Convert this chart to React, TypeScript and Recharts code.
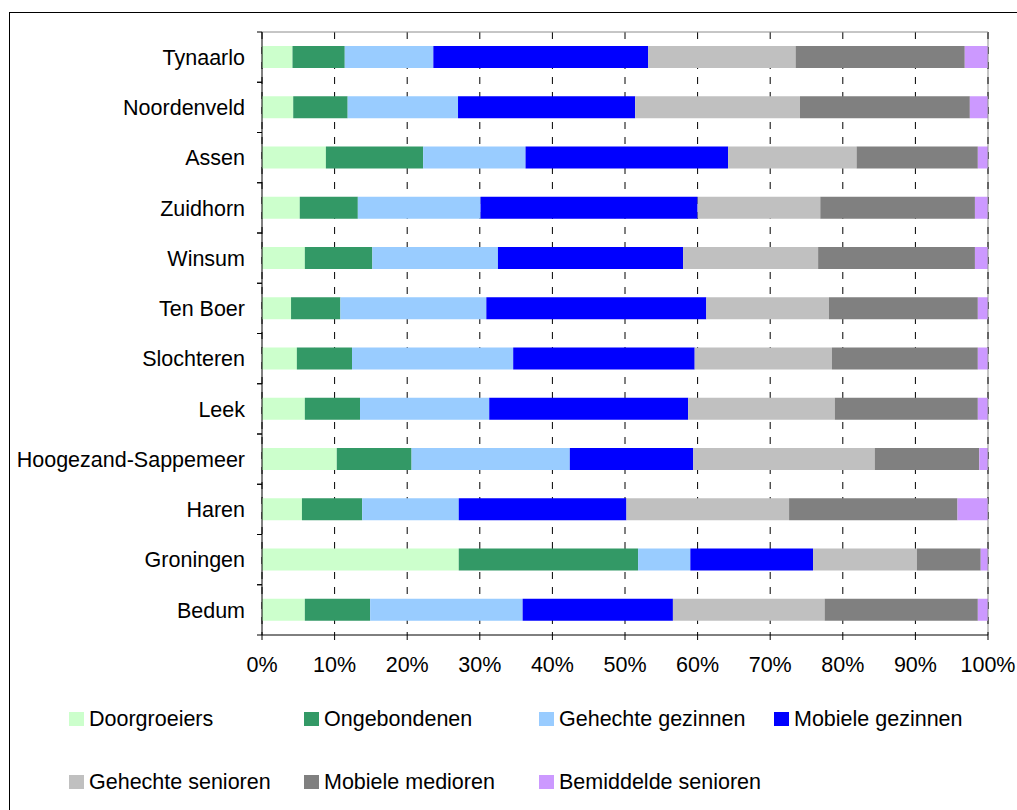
import React from 'react';
import { BarChart, Bar, XAxis, YAxis, CartesianGrid, ReferenceLine, Legend } from 'recharts';

// Gemeenten, van onder naar boven
const categories = [
  'Bedum', 'Groningen', 'Haren', 'Hoogezand-Sappemeer', 'Leek', 'Slochteren',
  'Ten Boer', 'Winsum', 'Zuidhorn', 'Assen', 'Noordenveld', 'Tynaarlo',
];

// Aandeel per leefstijlgroep (%), zelfde volgorde als categories
const doorgroeiers = [5.9, 27.1, 5.5, 10.3, 5.9, 4.8, 4.0, 5.9, 5.2, 8.8, 4.3, 4.2];
const ongebondenen = [9.0, 24.7, 8.3, 10.3, 7.6, 7.6, 6.8, 9.3, 8.0, 13.4, 7.5, 7.2];
const gehechteGezinnen = [21.0, 7.2, 13.3, 21.8, 17.8, 22.2, 20.1, 17.3, 16.9, 14.1, 15.2, 12.2];
const mobieleGezinnen = [20.7, 16.9, 23.1, 17.0, 27.4, 25.0, 30.3, 25.5, 29.9, 27.9, 24.4, 29.6];
const gehechteSenioren = [20.9, 14.3, 22.4, 25.0, 20.2, 18.9, 16.9, 18.6, 16.9, 17.7, 22.7, 20.3];
const mobieleMedioren = [21.1, 8.8, 23.2, 14.4, 19.7, 20.1, 20.5, 21.6, 21.3, 16.7, 23.4, 23.3];
const bemiddeldeSenioren = [1.4, 1.0, 4.2, 1.2, 1.4, 1.4, 1.4, 1.8, 1.8, 1.4, 2.5, 3.2];

const xTicks = [0, 10, 20, 30, 40, 50, 60, 70, 80, 90, 100];

const seriesDefs = [
  { key: 'Doorgroeiers', values: doorgroeiers, color: '#CCFFCC' },
  { key: 'Ongebondenen', values: ongebondenen, color: '#339966' },
  { key: 'Gehechte gezinnen', values: gehechteGezinnen, color: '#99CCFF' },
  { key: 'Mobiele gezinnen', values: mobieleGezinnen, color: '#0000FF' },
  { key: 'Gehechte senioren', values: gehechteSenioren, color: '#C0C0C0' },
  { key: 'Mobiele medioren', values: mobieleMedioren, color: '#808080' },
  { key: 'Bemiddelde senioren', values: bemiddeldeSenioren, color: '#CC99FF' },
];

const data = categories.map((name, i) => {
  const row: Record<string, string | number> = { name };
  seriesDefs.forEach((s) => {
    row[s.key] = s.values[i];
  });
  return row;
});

const FONT = '"Liberation Sans", Arial, Helvetica, sans-serif';
const FONT_SIZE = 21.5;
const TICK_SIZE = 5;
const TICK_MARGIN = 12;

// Category label plus tick marks on the band boundaries
function CategoryTick(props: any) {
  const { x, y, payload } = props;
  const half = payload && typeof payload.offset === 'number' ? payload.offset : 25.125;
  const lx1 = x + TICK_MARGIN;
  const lx2 = lx1 + TICK_SIZE;
  return (
    <g>
      <line x1={lx1} x2={lx2} y1={y - half} y2={y - half} stroke="#000" strokeWidth={1} />
      <line x1={lx1} x2={lx2} y1={y + half} y2={y + half} stroke="#000" strokeWidth={1} />
      <text x={x} y={y} dy="0.355em" textAnchor="end" fontSize={FONT_SIZE} fontFamily={FONT} fill="#000">
        {payload.value}
      </text>
    </g>
  );
}

function LegendBlock() {
  return (
    <div style={{ position: 'relative', width: 1017, height: 110, fontFamily: FONT }}>
      {seriesDefs.map((s, i) => {
        const row = i < 4 ? 0 : 1;
        const col = i < 4 ? i : i - 4;
        return (
          <div
            key={s.key}
            style={{
              position: 'absolute',
              left: 69 + col * 235,
              top: row * 63,
              height: 38,
              display: 'flex',
              alignItems: 'center',
              whiteSpace: 'nowrap',
            }}
          >
            <span style={{ display: 'inline-block', width: 15, height: 14, background: s.color }} />
            <span style={{ marginLeft: 5, fontSize: FONT_SIZE, color: '#000' }}>{s.key}</span>
          </div>
        );
      })}
    </div>
  );
}

export default function App() {
  return (
    <div
      style={{
        position: 'fixed',
        left: 0,
        top: 0,
        width: 1017,
        height: 810,
        overflow: 'hidden',
        background: '#fff',
        fontFamily: FONT,
      }}
    >
      <div
        style={{
          position: 'absolute',
          left: 9,
          top: 12,
          width: 1100,
          height: 900,
          border: '1px solid #000',
        }}
      />
      <div style={{ position: 'absolute', left: 0, top: 0 }}>
        <BarChart
          width={1017}
          height={810}
          data={data}
          layout="vertical"
          margin={{ top: 31, right: 29, bottom: 145, left: 0 }}
        >
          <CartesianGrid
            horizontal={false}
            vertical
            stroke="#000"
            strokeDasharray="7 8"
          />
          <XAxis
            xAxisId="top"
            orientation="top"
            type="number"
            domain={[0, 100]}
            ticks={xTicks}
            height={1}
            tick={false}
            tickLine={false}
            axisLine={{ stroke: '#8c8c8c', strokeWidth: 1 }}
          />
          <XAxis
            type="number"
            domain={[0, 100]}
            ticks={xTicks}
            height={30}
            tickSize={TICK_SIZE}
            tickMargin={17}
            tickFormatter={(v: number) => `${v}%`}
            tick={{ fontSize: FONT_SIZE, fontFamily: FONT, fill: '#000' }}
            axisLine={{ stroke: '#000', strokeWidth: 1 }}
            tickLine={{ stroke: '#000', strokeWidth: 1 }}
            interval={0}
          />
          <YAxis
            type="category"
            dataKey="name"
            reversed
            width={262}
            tickSize={TICK_SIZE}
            tickMargin={TICK_MARGIN}
            tickLine={false}
            tick={<CategoryTick />}
            axisLine={{ stroke: '#000', strokeWidth: 1 }}
            interval={0}
          />
          {seriesDefs.map((s) => (
            <Bar
              key={s.key}
              dataKey={s.key}
              stackId="a"
              fill={s.color}
              barSize={22}
              isAnimationActive={false}
            />
          ))}
          <ReferenceLine x={100} stroke="#8c8c8c" strokeWidth={1} />
          <Legend
            layout="horizontal"
            verticalAlign="middle"
            align="center"
            wrapperStyle={{ left: 0, top: 700, width: 1017 }}
            content={() => <LegendBlock />}
          />
        </BarChart>
      </div>
    </div>
  );
}
